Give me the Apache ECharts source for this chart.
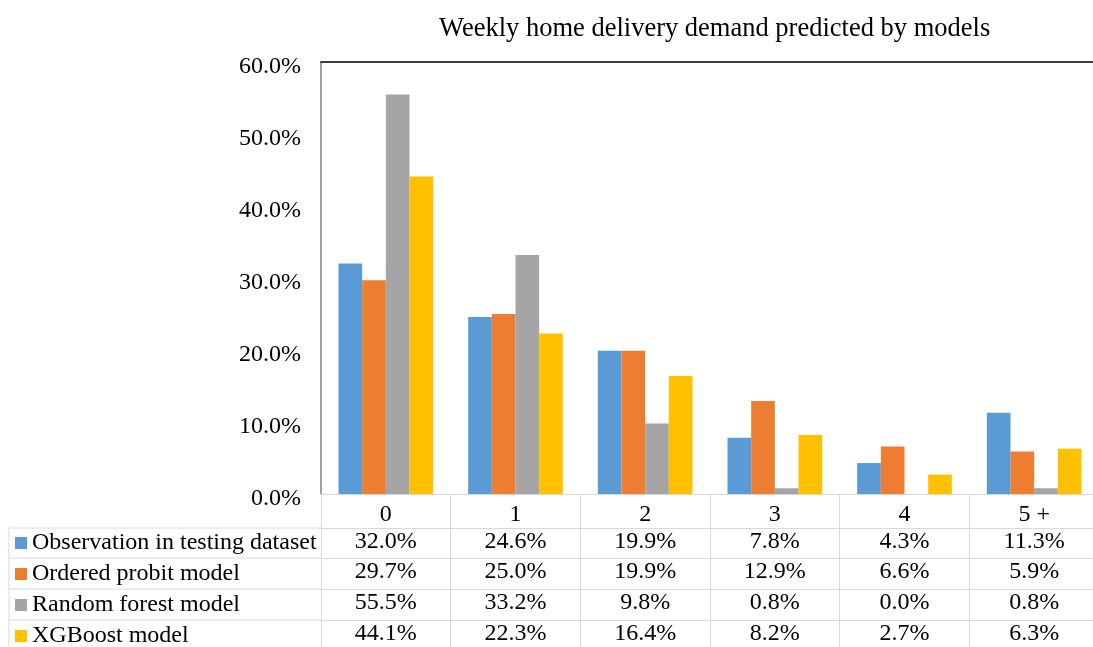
<!DOCTYPE html>
<html>
<head>
<meta charset="utf-8">
<script src="https://cdn.jsdelivr.net/npm/echarts@6/dist/echarts.min.js"></script>
<style>
  html, body { margin: 0; padding: 0; background: #fff; }
  #main { width: 1093px; height: 647px; }
</style>
</head>
<body>
<div id="main"></div>
<script>
var myChart = echarts.init(document.getElementById('main'));

var categories = ['0', '1', '2', '3', '4', '5 +'];
var seriesNames = ['Observation in testing dataset', 'Ordered probit model', 'Random forest model', 'XGBoost model'];
var observed = [32.0, 24.6, 19.9, 7.8, 4.3, 11.3];
var probit = [29.7, 25.0, 19.9, 12.9, 6.6, 5.9];
var forest = [55.5, 33.2, 9.8, 0.8, 0.0, 0.8];
var xgboost = [44.1, 22.3, 16.4, 8.2, 2.7, 6.3];
var colors = ['#5b9bd5', '#ed7d31', '#a5a5a5', '#ffc000'];
var yMin = 0, yMax = 60, yStep = 10;

var values = [observed, probit, forest, xgboost];
var font = '"Liberation Serif", "Times New Roman", serif';
var lineGray = '#d9d9d9';

// table rows under the plot: each row is one more category axis pushed down
var rowOffsets = [34, 64, 95, 126];
var rowHeights = [30, 31, 31, 27];

var xAxes = [{
    type: 'category',
    data: categories,
    position: 'bottom',
    axisLine: { lineStyle: { color: lineGray } },
    axisTick: { show: true, length: 34, interval: 0, lineStyle: { color: lineGray } },
    axisLabel: { color: '#000', fontFamily: font, fontSize: 24, lineHeight: 24, margin: 9, interval: 0 }
}, {
    type: 'category',
    data: categories,
    position: 'top',
    axisLine: { lineStyle: { color: '#000', width: 1.5 } },
    axisTick: { show: false },
    axisLabel: { show: false }
}];
values.forEach(function (row, r) {
    xAxes.push({
        type: 'category',
        data: categories,
        position: 'bottom',
        offset: rowOffsets[r],
        axisLine: { lineStyle: { color: lineGray } },
        axisTick: { show: true, length: rowHeights[r], interval: 0, lineStyle: { color: lineGray } },
        axisLabel: {
            color: '#000', fontFamily: font, fontSize: 24, lineHeight: 24, margin: 2, interval: 0,
            formatter: function (v, i) { return row[i].toFixed(1) + '%'; }
        }
    });
});

var series = values.map(function (row, r) {
    return {
        name: seriesNames[r],
        type: 'bar',
        xAxisIndex: 0,
        barGap: '0%',
        barCategoryGap: '27%',
        itemStyle: { color: colors[r] },
        data: row
    };
});

// left column borders of the data table
var leftLines = [];
[528, 558, 589, 620].forEach(function (y) {
    leftLines.push({ type: 'line', shape: { x1: 9, y1: y, x2: 321, y2: y }, style: { stroke: lineGray, lineWidth: 1 } });
});
leftLines.push({ type: 'line', shape: { x1: 9, y1: 528, x2: 9, y2: 647 }, style: { stroke: lineGray, lineWidth: 1 } });

var option = {
    animation: false,
    title: {
        text: 'Weekly home delivery demand predicted by models',
        left: 434,
        top: 11,
        textStyle: { fontFamily: font, fontSize: 26.5, fontWeight: 'normal', color: '#000' }
    },
    legend: {
        data: seriesNames,
        orient: 'vertical',
        left: 15,
        top: 531,
        height: 140,
        padding: 0,
        itemWidth: 12,
        itemHeight: 12,
        itemGap: 7,
        icon: 'rect',
        selectedMode: false,
        textStyle: { fontFamily: font, fontSize: 24, lineHeight: 24, color: '#000' }
    },
    grid: { left: 321, right: -6, top: 62, bottom: 153, outerBoundsMode: 'none' },
    xAxis: xAxes,
    yAxis: {
        type: 'value',
        min: yMin,
        max: yMax,
        interval: yStep,
        axisLine: { show: true, lineStyle: { color: '#808080', width: 1.5 } },
        axisTick: { show: false },
        splitLine: { show: false },
        axisLabel: {
            color: '#000', fontFamily: font, fontSize: 24, lineHeight: 10, margin: 20,
            verticalAlign: 'top',
            formatter: function (v) { return v.toFixed(1) + '%'; }
        }
    },
    graphic: leftLines,
    series: series
};
myChart.setOption(option);
</script>
</body>
</html>
